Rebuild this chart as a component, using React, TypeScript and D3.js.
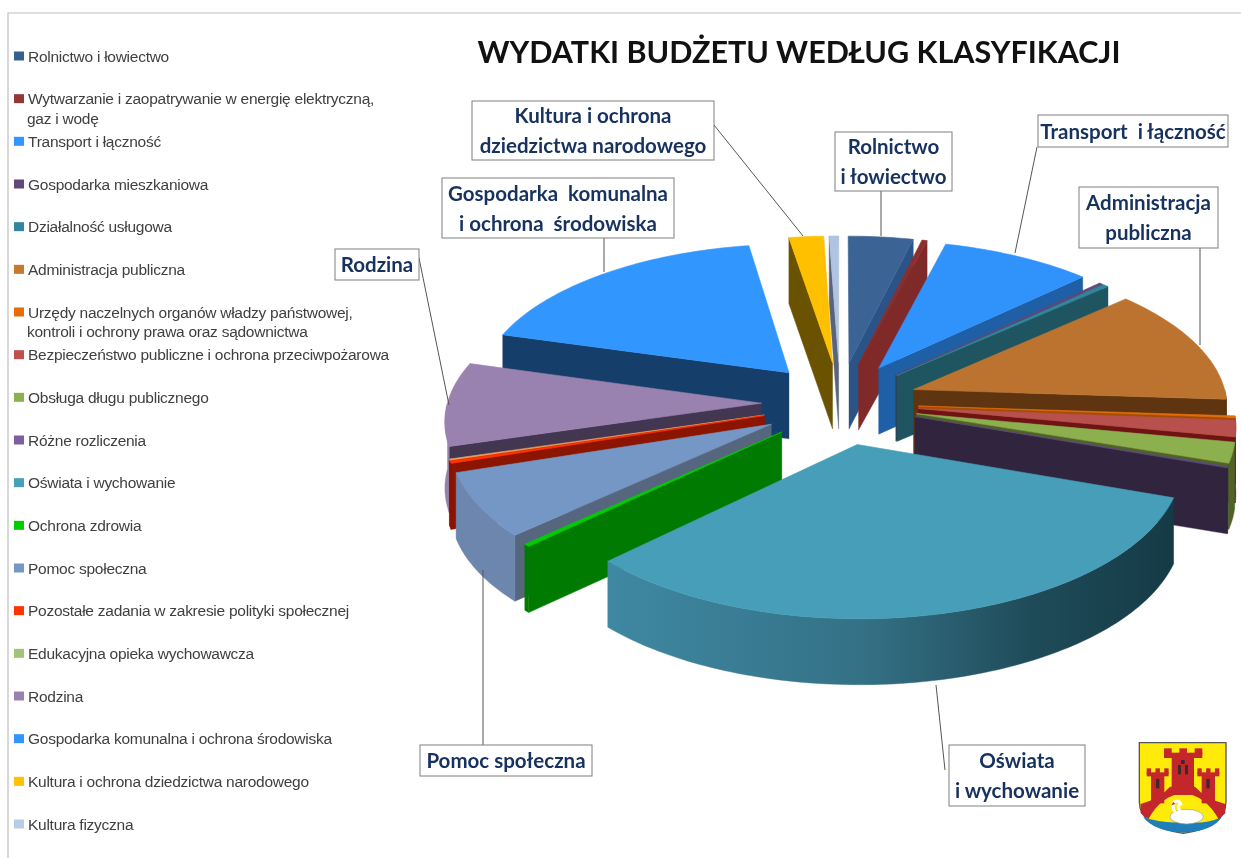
import React from "react";
import * as d3 from "d3";

const categories = [
  "Rolnictwo i łowiectwo",
  "Wytwarzanie i zaopatrywanie w energię elektryczną,\ngaz i wodę",
  "Transport i łączność",
  "Gospodarka mieszkaniowa",
  "Działalność usługowa",
  "Administracja publiczna",
  "Urzędy naczelnych organów władzy państwowej,\nkontroli i ochrony prawa oraz sądownictwa",
  "Bezpieczeństwo publiczne i ochrona przeciwpożarowa",
  "Obsługa długu publicznego",
  "Różne rozliczenia",
  "Oświata i wychowanie",
  "Ochrona zdrowia",
  "Pomoc społeczna",
  "Pozostałe zadania w zakresie polityki społecznej",
  "Edukacyjna opieka wychowawcza",
  "Rodzina",
  "Gospodarka komunalna i ochrona środowiska",
  "Kultura i ochrona dziedzictwa narodowego",
  "Kultura fizyczna",
];
const shares = [3.75, 0.3, 8.75, 0.2, 0.35, 12.7, 0.2, 1.75, 2.2, 0.15, 32.45, 0.3, 6.9, 0.25, 0.15, 9.05, 18.0, 2.0, 0.55];
const legendColors = ["#376092", "#953735", "#3296FF", "#60497A", "#31859C", "#C8782F", "#E46C0A", "#C0504D", "#8DB04F", "#7D5FA0", "#46A0B8", "#00CC00", "#7597C6", "#FF3300", "#A3C27A", "#9982AF", "#3296FF", "#FFC000", "#B9CDE5"];
const topColors = ["#3B6494", "#8A2F2D", "#3092FB", "#60497A", "#31859C", "#BD7330", "#E46C0A", "#B8504E", "#8DB04F", "#60497A", "#469EB8", "#00CC00", "#7597C6", "#FF3300", "#E9A15F", "#9982AF", "#3296FF", "#FFC000", "#B0C3E0"];
const sideColors = ["#2A5488", "#7F2A28", "#1F5FA6", "#403152", "#1E5560", "#5E3510", "#A04E06", "#6E1413", "#4F6228", "#30243F", "url(#eduWall)", "#007A00", "#56667F", "#8B1500", "#8B1500", "#433650", "#163E6B", "#6A5200", "#5A6478"];
const outerColors = ["#2A5488", "#7F2A28", "#1F5FA6", "#403152", "#1E5560", "#5E3510", "#A04E06", "#6E1413", "#4F6228", "#30243F", "url(#eduWall)", "#007A00", "#6D86AE", "#8B1500", "#8B1500", "#9580A8", "#163E6B", "#6A5200", "#5A6478"];

const callouts = [
  { lines: ["Kultura i ochrona", "dziedzictwa narodowego"], box: [472, 101, 242, 59], leader: [[714, 125], [803, 236]] },
  { lines: ["Rolnictwo", "i łowiectwo"], box: [835, 132, 117, 59], leader: [[881, 191], [881, 236]] },
  { lines: ["Transport  i łączność"], box: [1038, 115, 190, 32], leader: [[1037, 147], [1015, 253]] },
  { lines: ["Administracja", "publiczna"], box: [1079, 187, 139, 61], leader: [[1200, 248], [1200, 345]] },
  { lines: ["Gospodarka  komunalna", "i ochrona  środowiska"], box: [442, 178, 232, 60], leader: [[604, 238], [604, 272]] },
  { lines: ["Rodzina"], box: [335, 249, 84, 31], leader: [[419, 258], [449, 405]] },
  { lines: ["Pomoc społeczna"], box: [420, 745, 172, 31], leader: [[483, 745], [483, 570]] },
  { lines: ["Oświata", "i wychowanie"], box: [949, 745, 136, 61], leader: [[945, 770], [936, 685]] },
];

const W = 1241, H = 858;
const CX = 840, CY = 403, RX = 314, RY = 147.5, PERSP = 0.1016, EXPLODE_U = 0.25, EXPLODE_V = 0.28, DEPTH = 66;

const project = (u: number, v: number): [number, number] => {
  const s = 1 / (1 - PERSP * v);
  return [CX + RX * u * s, CY + RY * v * s];
};

const pieGen = d3.pie<number>().sort(null).value((d) => d).startAngle(0).endAngle(2 * Math.PI);
const arcs = pieGen(shares).map((a, i) => ({ ...a, i, mid: (a.startAngle + a.endAngle) / 2 }));
const line = d3.line();
const sweep = (a0: number, a1: number) => {
  const n = Math.max(2, Math.ceil((a1 - a0) / 0.02));
  return d3.range(n + 1).map((j) => a0 + ((a1 - a0) * j) / n);
};

function Slice({ a }: { a: (typeof arcs)[number] }) {
  const bu = EXPLODE_U * Math.sin(a.mid), bv = -EXPLODE_V * Math.cos(a.mid);
  const pt = (ang: number) => project(bu + Math.sin(ang), bv - Math.cos(ang));
  const apex = project(bu, bv);
  const down = (p: [number, number]): [number, number] => [p[0], p[1] + DEPTH];
  const topPts: [number, number][] = [apex, ...sweep(a.startAngle, a.endAngle).map(pt)];
  const walls: React.ReactNode[] = [];
  const radial = (ang: number, key: string) => {
    const q = pt(ang);
    walls.push(<path key={key} d={line([apex, q, down(q), down(apex)])! + "Z"} fill={sideColors[a.i]} stroke={sideColors[a.i]} strokeWidth={0.4} />);
  };
  if (a.endAngle < Math.PI) radial(a.endAngle, "e");
  if (a.startAngle > Math.PI) radial(a.startAngle, "s");
  const o0 = Math.max(a.startAngle, Math.PI / 2), o1 = Math.min(a.endAngle, (3 * Math.PI) / 2);
  if (o1 > o0) {
    const outer = sweep(o0, o1).map(pt);
    walls.push(<path key="o" d={line([...outer, ...outer.map(down).reverse()])! + "Z"} fill={outerColors[a.i]} stroke={outerColors[a.i]} strokeWidth={0.4} />);
  }
  return (
    <g>
      {walls}
      <path d={line(topPts)! + "Z"} fill={topColors[a.i]} stroke={topColors[a.i]} strokeWidth={0.6} strokeLinejoin="round" />
    </g>
  );
}

const legendY = d3.scaleLinear().domain([0, categories.length - 1]).range([56, 824]);
const order = [...arcs].sort((p, q) => Math.abs(q.mid - Math.PI) - Math.abs(p.mid - Math.PI));

function Crest() {
  const red = "#C4272B";
  const merlons = (x0: number, x1: number, y0: number, y1: number, n: number) => {
    const w = (x1 - x0) / (2 * n - 1);
    return d3.range(n).map((j) => <rect key={j} x={x0 + 2 * j * w} y={y0} width={w} height={y1 - y0 + 12} fill={red} />);
  };
  return (
    <g transform="translate(1120,730) scale(0.3333)">
      <path d="M58,38 L318,38 L318,215 Q318,290 190,310 Q58,290 58,215 Z" fill="#FFEB0A" stroke="#555" strokeWidth={4} />
      <path d="M70,262 Q130,282 190,276 Q250,285 305,262 Q280,303 190,308 Q100,303 70,262Z" fill="#1E7FB8" />
      <rect x={155} y={75} width={67} height={120} fill={red} />
      {merlons(132, 247, 55, 62, 3)}
      <rect x={132} y={68} width={115} height={16} fill={red} />
      <rect x={93} y={135} width={40} height={85} fill={red} />
      {merlons(80, 146, 115, 120, 3)}
      <rect x={80} y={127} width={66} height={12} fill={red} />
      <rect x={245} y={135} width={40} height={85} fill={red} />
      {merlons(232, 298, 115, 120, 3)}
      <rect x={232} y={127} width={66} height={12} fill={red} />
      <path d="M62,222 Q120,205 150,170 L225,170 Q255,205 316,222 L316,250 L296,268 Q255,195 190,190 Q125,195 85,268 L62,250Z" fill={red} />
      <rect x={174} y={105} width={9} height={28} fill="#3A2A2A" />
      <rect x={195} y={105} width={9} height={28} fill="#3A2A2A" />
      <rect x={183} y={90} width={11} height={12} fill="#3A2A2A" />
      <rect x={108} y={147} width={10} height={28} fill="#3A2A2A" />
      <rect x={259} y={147} width={10} height={28} fill="#3A2A2A" />
      <ellipse cx={200} cy={260} rx={50} ry={22} fill="#fff" stroke="#999" strokeWidth={2} />
      <path d="M172,255 Q150,230 165,215 Q178,208 182,222 Q170,225 180,245" fill="none" stroke="#fff" strokeWidth={9} />
      <path d="M160,216 L154,226 L166,222Z" fill={red} />
    </g>
  );
}

export default function App() {
  return (
    <svg width={W} height={H} viewBox={`0 0 ${W} ${H}`} style={{ position: "absolute", left: 0, top: 0, background: "#fff" }}>
      <defs>
        <linearGradient id="eduWall" gradientUnits="userSpaceOnUse" x1={608} x2={1175} y1={0} y2={0}>
          <stop offset="0" stopColor="#3F88A2" />
          <stop offset="0.45" stopColor="#347186" />
          <stop offset="0.75" stopColor="#1F4B59" />
          <stop offset="1" stopColor="#153A46" />
        </linearGradient>
      </defs>
      <g style={{ filter: "blur(0.45px)" }}>
        <path d="M8,858 L8,13 L1241,13" fill="none" stroke="#BFBFBF" strokeWidth={1.2} />
        {order.map((a) => <Slice key={a.i} a={a} />)}
        {callouts.map((c, i) => (
          <path key={i} d={line(c.leader as [number, number][])!} fill="none" stroke="#555" strokeWidth={1} />
        ))}
        <text x={799} y={62.5} textAnchor="middle" fontFamily="Lato" fontWeight={700} fontSize={30.5} fill="#111">WYDATKI BUDŻETU WEDŁUG KLASYFIKACJI</text>
        {categories.map((c, i) => (
          <g key={i}>
            <rect x={14} y={legendY(i) - 4.5} width={10} height={9} fill={legendColors[i]} />
            {c.split("\n").map((t, j) => (
              <text key={j} x={j === 0 ? 28 : 27} y={legendY(i) + 5.5 + j * 19.5} fontFamily="Liberation Sans" fontSize={15.5} letterSpacing={-0.26} fill="#404040">{t}</text>
            ))}
          </g>
        ))}
        {callouts.map((c, i) => {
          const [x, y, w, h] = c.box;
          const lh = 30;
          const y0 = y + h / 2 - ((c.lines.length - 1) * lh) / 2 + 7.5;
          return (
            <g key={i}>
              <rect x={x} y={y} width={w} height={h} fill="#fff" stroke="#7F7F7F" strokeWidth={1} />
              {c.lines.map((t, j) => (
                <text key={j} x={x + w / 2} y={y0 + j * lh} textAnchor="middle" fontFamily="Lato" fontWeight={700} fontSize={20.5} fill="#17325F" style={{ whiteSpace: "pre" }}>{t}</text>
              ))}
            </g>
          );
        })}
        <Crest />
      </g>
    </svg>
  );
}
